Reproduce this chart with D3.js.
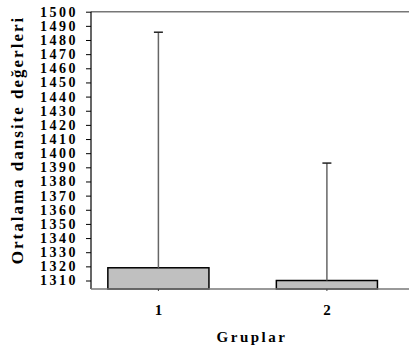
<!DOCTYPE html>
<html>
<head>
<meta charset="utf-8">
<script src="https://cdn.jsdelivr.net/npm/d3@7"></script>
<style>
  body { margin: 0; background: #fff; }
</style>
</head>
<body>
<svg width="409" height="349"></svg>
<script>
// data
const groups = ['1', '2']
const means = [1319, 1310]
const upper = [1485.5, 1393]
const yTicks = d3.range(1310, 1501, 10)

const width = 409
const height = 349
const plotLeft = 91
const plotTop = 11.7
const plotBottom = 289
const serif = "'Liberation Serif', 'DejaVu Serif', serif"

let svg = d3.select('svg')

let xScale = d3.scaleBand()
    .domain(groups)
    .range([plotLeft, 394.3])
    .paddingInner(0.4)
    .paddingOuter(0.1)

let yScale = d3.scaleLinear()
    .domain([1304, 1500])
    .range([plotBottom, plotTop])

// top frame line runs to the edge
svg.append('line')
    .attr('x1', plotLeft).attr('x2', width)
    .attr('y1', plotTop).attr('y2', plotTop)
    .attr('stroke', '#777').attr('stroke-width', 1.5)

// y axis
let yAxis = d3.axisLeft(yScale)
    .tickValues(yTicks)
    .tickSize(5)
    .tickPadding(8)
    .tickFormat(d3.format('d'))

let gy = svg.append('g')
    .attr('transform', 'translate(' + plotLeft + ',0)')
    .call(yAxis)
    .attr('font-family', serif)
gy.select('.domain').attr('stroke', '#000').attr('stroke-width', 1.2)
    .attr('d', 'M0,' + plotTop + 'V' + plotBottom)
gy.selectAll('.tick line').attr('stroke', '#000')
gy.selectAll('.tick text')
    .attr('fill', '#000')
    .style('font-family', serif)
    .style('font-weight', 'bold')
    .style('font-size', '14px')
    .style('letter-spacing', '2.5px')

// bars
svg.selectAll('rect.bar')
    .data(groups)
    .enter()
    .append('rect')
    .attr('class', 'bar')
    .attr('x', d => xScale(d))
    .attr('y', (d, i) => yScale(means[i]))
    .attr('width', xScale.bandwidth())
    .attr('height', (d, i) => plotBottom - yScale(means[i]))
    .attr('fill', '#c0c0c0')
    .attr('stroke', '#000')
    .attr('stroke-width', 1.5)

// error bars
let cx = d => xScale(d) + xScale.bandwidth() / 2
svg.selectAll('line.err')
    .data(groups)
    .enter()
    .append('line')
    .attr('class', 'err')
    .attr('x1', cx).attr('x2', cx)
    .attr('y1', (d, i) => yScale(means[i]))
    .attr('y2', (d, i) => yScale(upper[i]))
    .attr('stroke', '#666')
    .attr('stroke-width', 1.5)

svg.selectAll('line.cap')
    .data(groups)
    .enter()
    .append('line')
    .attr('class', 'cap')
    .attr('x1', d => cx(d) - 4.5).attr('x2', d => cx(d) + 4.5)
    .attr('y1', (d, i) => yScale(upper[i]))
    .attr('y2', (d, i) => yScale(upper[i]))
    .attr('stroke', '#222')
    .attr('stroke-width', 1.5)

// x axis
let xAxis = d3.axisBottom(xScale).tickSize(2).tickPadding(13)
let gx = svg.append('g')
    .attr('transform', 'translate(0,' + plotBottom + ')')
    .call(xAxis)
    .attr('font-family', serif)
gx.select('.domain').attr('stroke', '#777').attr('stroke-width', 1.5)
    .attr('d', 'M' + plotLeft + ',0H' + width)
gx.selectAll('.tick line').attr('stroke', '#444')
gx.selectAll('.tick text')
    .attr('fill', '#000')
    .style('font-family', serif)
    .style('font-weight', 'bold')
    .style('font-size', '15px')

// axis titles
svg.append('text')
    .attr('x', 252).attr('y', 342)
    .attr('text-anchor', 'middle')
    .style('font-family', serif)
    .style('font-weight', 'bold')
    .style('font-size', '15px')
    .style('letter-spacing', '2.5px')
    .text('Gruplar')

svg.append('text')
    .attr('transform', 'translate(23,140) rotate(-90)')
    .attr('text-anchor', 'middle')
    .style('font-family', serif)
    .style('font-weight', 'bold')
    .style('font-size', '17px')
    .style('letter-spacing', '2px')
    .text('Ortalama dansite değerleri')
</script>
</body>
</html>
